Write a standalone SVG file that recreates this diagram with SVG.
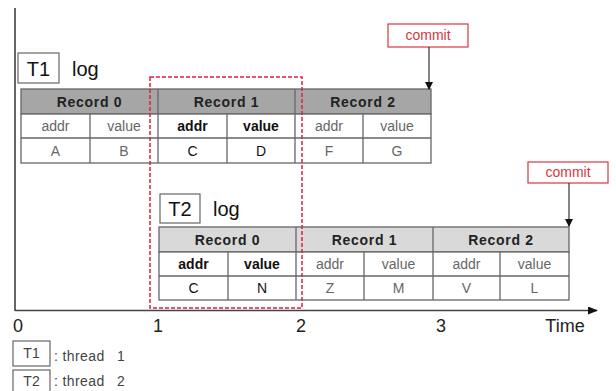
<svg xmlns="http://www.w3.org/2000/svg" width="616" height="391" viewBox="0 0 616 391">
<defs>
<style>
.ln{stroke:#666;stroke-width:1.3;fill:none}
.h1{fill:#a6a6a6;stroke:#666;stroke-width:1.3}
.h2{fill:#d9d9d9;stroke:#666;stroke-width:1.3}
.c{fill:#fff;stroke:#666;stroke-width:1.3}
.t{font-family:"Liberation Sans",Arial,sans-serif;text-anchor:middle}
.hd{font-size:14px;fill:#222;letter-spacing:0.7px;font-weight:bold}
.rg{font-size:14px;fill:#666}
.bd{font-size:14px;fill:#111;font-weight:bold}
.bk{font-size:14px;fill:#111}
.big{font-family:"Liberation Sans",Arial,sans-serif;font-size:20px;fill:#111}
.ax{font-family:"Liberation Sans",Arial,sans-serif;font-size:18px;fill:#222}
.cm{font-family:"Liberation Sans",Arial,sans-serif;font-size:14px;fill:#d9363e;text-anchor:middle}
.lg{font-family:"Liberation Sans",Arial,sans-serif;font-size:14px;fill:#444}
</style>
<marker id="ah" markerWidth="8" markerHeight="8" refX="7" refY="4" orient="auto" markerUnits="userSpaceOnUse">
<path d="M0,0 L8,4 L0,8 z" fill="#111"/>
</marker>
<marker id="ax" markerWidth="10" markerHeight="8" refX="9" refY="4" orient="auto" markerUnits="userSpaceOnUse">
<path d="M0,0 L10,4 L0,8 z" fill="#111"/>
</marker>
</defs>
<rect width="616" height="391" fill="#fff"/>

<g id="axes">
<line x1="15" y1="8" x2="15" y2="311" stroke="#333" stroke-width="1.5"/>
<line x1="15" y1="310.5" x2="597" y2="310.5" stroke="#444" stroke-width="1.5" marker-end="url(#ax)"/>
<text class="ax" x="18" y="332" text-anchor="middle">0</text>
<text class="ax" x="158" y="332" text-anchor="middle">1</text>
<text class="ax" x="301" y="332" text-anchor="middle">2</text>
<text class="ax" x="441" y="332" text-anchor="middle">3</text>
<text class="ax" x="565" y="332" text-anchor="middle">Time</text>
</g>

<g id="t1-log">
<rect x="18" y="53" width="41" height="30" fill="#fff" stroke="#666" stroke-width="1.2"/>
<text class="big" x="38.5" y="76" text-anchor="middle">T1</text>
<text class="big" x="72" y="76">log</text>
<rect class="h1" x="21" y="89" width="410" height="25"/>
<rect class="c" x="21" y="114" width="410" height="49"/>
<line class="ln" x1="21" y1="138" x2="431" y2="138"/>
<line class="ln" x1="158" y1="89" x2="158" y2="163" stroke-width="2"/>
<line class="ln" x1="295" y1="89" x2="295" y2="163" stroke-width="2"/>
<line class="ln" x1="90" y1="114" x2="90" y2="163"/>
<line class="ln" x1="227" y1="114" x2="227" y2="163"/>
<line class="ln" x1="363" y1="114" x2="363" y2="163"/>
<text class="t hd" x="89.5" y="107">Record 0</text>
<text class="t hd" x="226.5" y="107">Record 1</text>
<text class="t hd" x="363" y="107">Record 2</text>
<text class="t rg" x="55.5" y="131">addr</text>
<text class="t rg" x="124" y="131">value</text>
<text class="t bd" x="192.5" y="131">addr</text>
<text class="t bd" x="261" y="131">value</text>
<text class="t rg" x="329" y="131">addr</text>
<text class="t rg" x="397" y="131">value</text>
<text class="t rg" x="55.5" y="156">A</text>
<text class="t rg" x="124" y="156">B</text>
<text class="t bk" x="192.5" y="156">C</text>
<text class="t bk" x="261" y="156">D</text>
<text class="t rg" x="329" y="156">F</text>
<text class="t rg" x="397" y="156">G</text>
</g>

<g id="t2-log">
<rect x="160" y="194" width="40" height="29" fill="#fff" stroke="#666" stroke-width="1.2"/>
<text class="big" x="180" y="216" text-anchor="middle">T2</text>
<text class="big" x="213" y="216">log</text>
<rect class="h2" x="159" y="227" width="410" height="25"/>
<rect class="c" x="159" y="252" width="410" height="48"/>
<line class="ln" x1="159" y1="276" x2="569" y2="276"/>
<line class="ln" x1="296" y1="227" x2="296" y2="300" stroke-width="2"/>
<line class="ln" x1="433" y1="227" x2="433" y2="300" stroke-width="2"/>
<line class="ln" x1="228" y1="252" x2="228" y2="300"/>
<line class="ln" x1="364" y1="252" x2="364" y2="300"/>
<line class="ln" x1="500" y1="252" x2="500" y2="300"/>
<text class="t hd" x="227.5" y="245">Record 0</text>
<text class="t hd" x="364.5" y="245">Record 1</text>
<text class="t hd" x="501" y="245">Record 2</text>
<text class="t bd" x="193.5" y="269">addr</text>
<text class="t bd" x="262" y="269">value</text>
<text class="t rg" x="330" y="269">addr</text>
<text class="t rg" x="398.5" y="269">value</text>
<text class="t rg" x="466.5" y="269">addr</text>
<text class="t rg" x="534.5" y="269">value</text>
<text class="t bk" x="193.5" y="293">C</text>
<text class="t bk" x="262" y="293">N</text>
<text class="t rg" x="330" y="293">Z</text>
<text class="t rg" x="398.5" y="293">M</text>
<text class="t rg" x="466.5" y="293">V</text>
<text class="t rg" x="534.5" y="293">L</text>
</g>

<g id="highlight">
<rect x="150" y="77" width="152" height="231" fill="none" stroke="#e0203a" stroke-width="1.5" stroke-dasharray="4,2"/>
</g>

<g id="commit1">
<rect x="388" y="24" width="80" height="23" fill="#fff" stroke="#d9363e" stroke-width="1.2"/>
<text class="cm" x="428" y="40">commit</text>
</g>
<g id="commit2">
<rect x="528" y="162" width="80" height="21" fill="#fff" stroke="#d9363e" stroke-width="1.2"/>
<text class="cm" x="568" y="177">commit</text>
</g>

<g id="connectors">
<line x1="429" y1="47" x2="429" y2="89" stroke="#333" stroke-width="1.2" marker-end="url(#ah)"/>
<line x1="569" y1="183" x2="569" y2="226" stroke="#333" stroke-width="1.2" marker-end="url(#ah)"/>
</g>

<g id="legend">
<rect x="13" y="341" width="37" height="25" fill="#fff" stroke="#666" stroke-width="1.2"/>
<text class="lg" x="31.5" y="358" text-anchor="middle">T1</text>
<text class="lg" x="54" y="361" letter-spacing="0.4">: thread</text>
<text class="lg" x="117" y="361">1</text>
<rect x="13" y="370" width="37" height="25" fill="#fff" stroke="#666" stroke-width="1.2"/>
<text class="lg" x="31.5" y="386" text-anchor="middle">T2</text>
<text class="lg" x="54" y="386" letter-spacing="0.4">: thread</text>
<text class="lg" x="117" y="386">2</text>
</g>
</svg>
